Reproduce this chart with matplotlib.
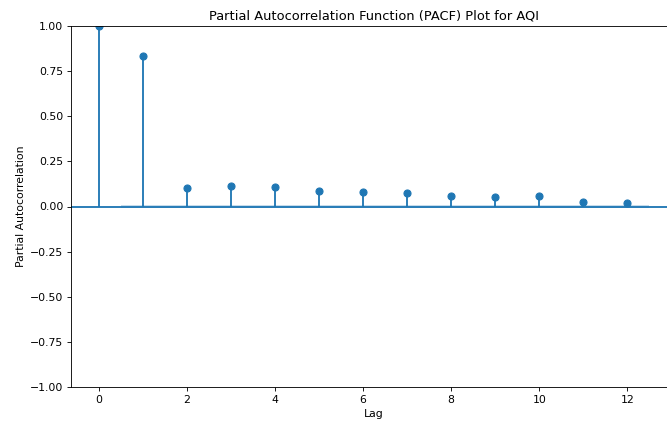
import matplotlib
matplotlib.use("Agg")
import matplotlib.pyplot as plt
import numpy as np

# PACF values for AQI, lags 0..12
lags = [0, 1, 2, 3, 4, 5, 6, 7, 8, 9, 10, 11, 12]
pacf_vals = [1.0, 0.834, 0.100, 0.114, 0.108, 0.086, 0.080, 0.075, 0.058, 0.053, 0.058, 0.025, 0.019]
conf_halfwidth = 0.011  # 1.96 / sqrt(nobs)

lags_arr = np.asarray(lags, dtype=float)
vals = np.asarray(pacf_vals)

DPI = 78
fig = plt.figure(figsize=(667 / DPI, 424 / DPI), dpi=DPI)
# axes runs slightly past the right edge of the canvas
ax = fig.add_axes([71 / 667, 37 / 424, 606 / 667, 361 / 424])

ax.vlines(lags_arr, [0], vals, color="C0", linewidth=1.7)
ax.axhline(0, color="C0", linewidth=1.7)
ax.margins(0.05)
ax.plot(lags_arr, vals, marker="o", markersize=6.5, linestyle="None", color="C0")

# confidence band, skipping lag 0 and widened by half a lag at both ends
band_x = lags_arr[1:].copy()
band_x[0] -= 0.5
band_x[-1] += 0.5
ax.fill_between(band_x, -conf_halfwidth, conf_halfwidth, alpha=0.25, color="C0", linewidth=0)

ax.set_ylim(-1, 1)
ax.set_title("Partial Autocorrelation Function (PACF) Plot for AQI")
ax.set_xlabel("Lag")
ax.set_ylabel("Partial Autocorrelation")

fig.savefig("out.png", dpi=DPI)
